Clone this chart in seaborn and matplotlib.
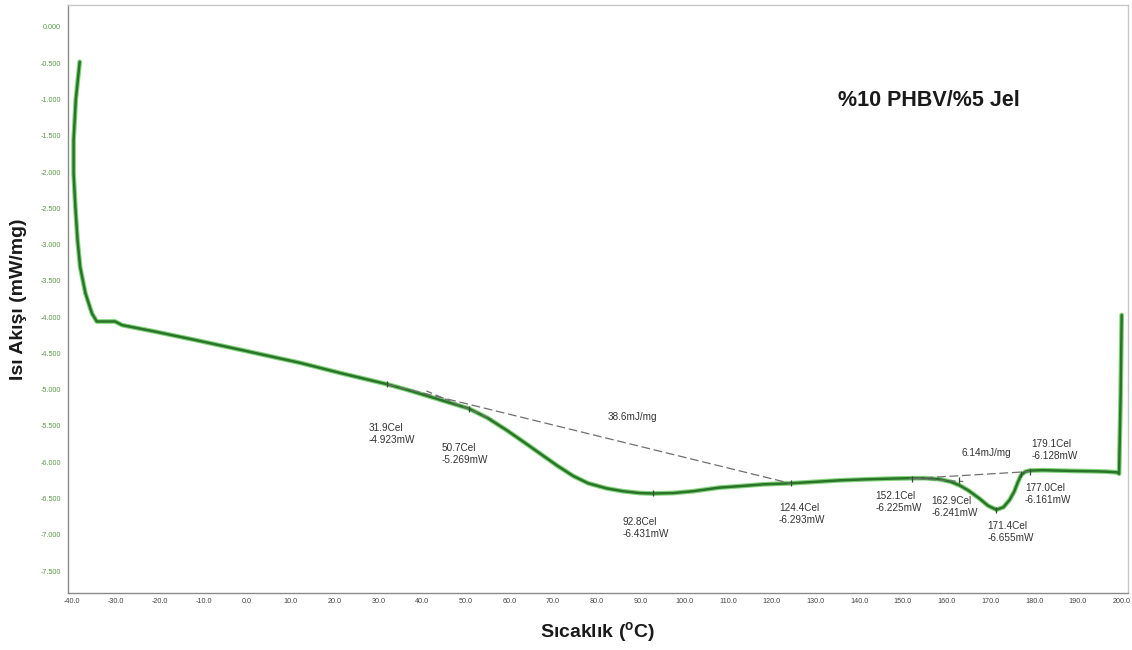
import matplotlib
matplotlib.use("Agg")
import matplotlib.pyplot as plt
import seaborn as sns
import pandas as pd

# DSC heat-flow curve: temperature (°C) and heat flow (mW)
temperature = [-38.3, -39.2, -39.7, -39.7, -39.3, -38.8, -38.2, -37.0, -35.5, -34.4,
               -30.2, -28.6, -21.0, -10.7, 0.0, 12.1, 21.3, 31.9, 36.5, 42.0,
               50.7, 55.0, 59.4, 63.0, 67.0, 71.0, 74.6, 78.0, 82.2, 86.0,
               89.8, 92.8, 97.4, 102.0, 108.0, 112.7, 118.0, 124.4, 130.0, 135.5,
               142.0, 148.0, 152.1, 155.0, 158.4, 161.0, 163.0, 165.0, 167.5, 169.5,
               171.4, 173.0, 174.4, 175.5, 176.2, 177.0, 178.0, 179.1, 182.0, 188.8,
               194.0, 196.5, 199.1, 199.45, 199.8, 200.05]
heat_flow = [-0.48, -1.00, -1.56, -2.02, -2.48, -2.94, -3.31, -3.67, -3.95, -4.06,
             -4.06, -4.11, -4.20, -4.33, -4.47, -4.63, -4.77, -4.923, -5.00, -5.10,
             -5.26, -5.39, -5.56, -5.71, -5.88, -6.05, -6.19, -6.29, -6.36, -6.40,
             -6.425, -6.431, -6.425, -6.40, -6.35, -6.33, -6.305, -6.29, -6.27, -6.25,
             -6.235, -6.225, -6.22, -6.22, -6.235, -6.27, -6.32, -6.39, -6.50, -6.60,
             -6.655, -6.62, -6.52, -6.40, -6.29, -6.18, -6.13, -6.115, -6.11, -6.12,
             -6.125, -6.13, -6.14, -6.16, -5.10, -3.97]

# Analysed points
point_temps = [31.9, 50.7, 92.8, 124.4, 152.1, 162.9, 171.4, 177.0, 179.1]
point_values = [-4.923, -5.269, -6.431, -6.293, -6.225, -6.241, -6.655, -6.161, -6.128]

# Integration baselines (start index, end index into the analysed points) and enthalpies
baselines = [(0, 3), (4, 8)]
enthalpies = ["38.6mJ/mg", "6.14mJ/mg"]

x_ticks = [-40, -30, -20, -10, 0, 10, 20, 30, 40, 50, 60, 70, 80, 90, 100, 110,
           120, 130, 140, 150, 160, 170, 180, 190, 200]
y_ticks = [0.0, -0.5, -1.0, -1.5, -2.0, -2.5, -3.0, -3.5, -4.0, -4.5, -5.0, -5.5,
           -6.0, -6.5, -7.0, -7.5]

sns.set_theme(style="white")
plt.rcParams["font.family"] = ["Liberation Sans", "DejaVu Sans"]

fig = plt.figure(figsize=(11.32, 6.5), dpi=100)
ax = fig.add_axes([0.060, 0.088, 0.9365, 0.904])

df = pd.DataFrame({"T": temperature, "Q": heat_flow})
sns.lineplot(data=df, x="T", y="Q", sort=False, estimator=None, ax=ax,
             color="#63c95a", linewidth=3.4, alpha=0.8)
sns.lineplot(data=df, x="T", y="Q", sort=False, estimator=None, ax=ax,
             color="#2a742a", linewidth=1.8)

# Baselines and enthalpy labels
label_offsets = [(19, 22), (-10, 27)]
for (i0, i1), txt, (dx, dy) in zip(baselines, enthalpies, label_offsets):
    xs = [point_temps[i0], point_temps[i1]]
    ys = [point_values[i0], point_values[i1]]
    ax.plot(xs, ys, ls=(0, (7, 3)), color="#6f6f6f", lw=0.9)
    mx, my = sum(xs) / 2, sum(ys) / 2
    ax.annotate(txt, xy=(mx, my), xytext=(dx, dy), textcoords="offset pixels",
                ha="left", va="top", fontsize=7.2, color="#333333")

# Onset tangents
tangents = [((41.0, 56.0), 1, -0.026), ((151.5, 163.8), 4, -0.0035)]
for (ta, tb), idx, slope in tangents:
    t0, v0 = point_temps[idx], point_values[idx]
    ax.plot([ta, tb], [v0 + slope * (ta - t0), v0 + slope * (tb - t0)],
            ls=(0, (5, 3)), color="#6f6f6f", lw=0.9)

# Point markers and their labels
ax.scatter(point_temps, point_values, marker="|", s=22, color="#2f4f2f",
           linewidths=0.9, zorder=4)
point_offsets = [(-18, -39), (-27, -34), (-30, -24), (-12, -20), (-37, -12),
                 (-28, -16), (-9, -11), (4, -9), (1, 33)]
for t, v, (dx, dy) in zip(point_temps, point_values, point_offsets):
    ax.annotate(f"{t:.1f}Cel\n{v:.3f}mW", xy=(t, v), xytext=(dx, dy),
                textcoords="offset pixels", ha="left", va="top",
                fontsize=7.2, color="#333333", linespacing=1.25)

ax.text(0.726, 0.838, "%10 PHBV/%5 Jel", transform=ax.transAxes,
        fontsize=15.5, fontweight="bold", color="#1a1a1a", va="center", ha="left")

ax.set_xlim(-41.0, 201.5)
ax.set_ylim(-7.80, 0.30)
ax.set_xticks(x_ticks)
ax.set_xticklabels([f"{v:.1f}" for v in x_ticks])
ax.set_yticks(y_ticks)
ax.set_yticklabels([f"{v:.3f}" for v in y_ticks])
ax.tick_params(axis="x", direction="in", length=5, width=0.8, color="#555555",
               labelsize=5.2, labelcolor="#444444", pad=4)
ax.tick_params(axis="y", direction="in", length=4, width=0.8, color="#6a9a5a",
               labelsize=5.2, labelcolor="#5a9a48", pad=5)
for side, sp in ax.spines.items():
    sp.set_visible(True)
    sp.set_color("#8a8a8a" if side in ("left", "bottom") else "#c8c8c8")
    sp.set_linewidth(1.0)

ax.set_xlabel("Sıcaklık ($^{\\mathregular{o}}$C)", fontsize=14, fontweight="bold",
              color="#1a1a1a", labelpad=11)
ax.set_ylabel("Isı Akışı (mW/mg)", fontsize=14, fontweight="bold",
              color="#1a1a1a", labelpad=10)

fig.savefig("out.png", dpi=100, facecolor="white")
